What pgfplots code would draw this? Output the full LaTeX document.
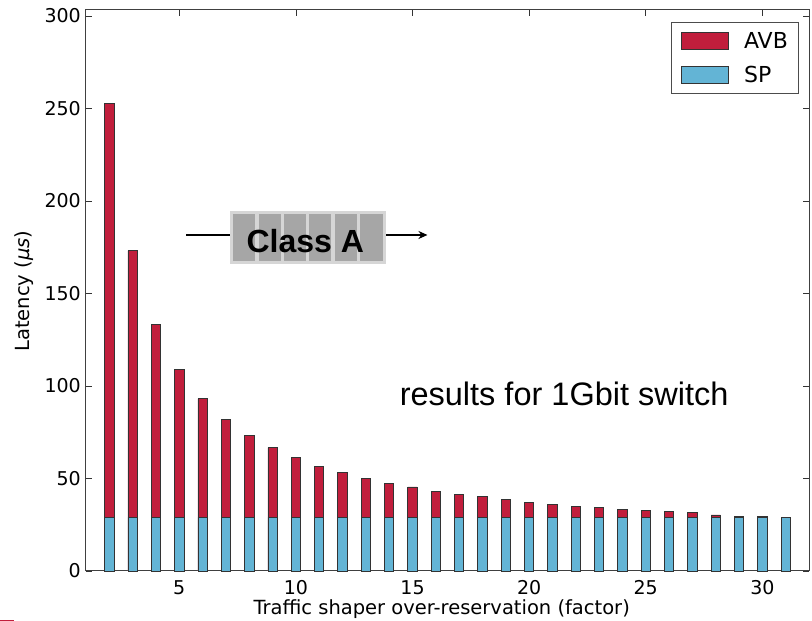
\documentclass[border=0pt]{standalone}
\usepackage{fontspec}
\setmainfont{DejaVu Sans}
\newfontfamily\arial{Liberation Sans}
\usepackage{pgfplots}
\pgfplotsset{compat=1.18}
\usetikzlibrary{arrows.meta}

\definecolor{avbred}{RGB}{193,30,60}
\definecolor{spblue}{RGB}{99,180,213}
\definecolor{boxlight}{RGB}{214,214,214}
\definecolor{boxcell}{RGB}{166,166,166}

\begin{document}
\begin{tikzpicture}
\begin{axis}[
    at={(0pt,0pt)}, anchor=south west,
    scale only axis,
    width=723pt, height=561pt,
    xmin=1, xmax=32,
    ymin=0, ymax=303.2,
    xtick={5,10,...,30},
    ytick={0,50,...,300},
    tick align=inside,
    major tick length=6pt,
    tick style={black!80, line width=0.8pt},
    axis line style={black!75, line width=1pt},
    /pgf/number format/assume math mode=true,
    ticklabel style={font=\fontsize{19}{21}\selectfont, inner sep=0pt},
    xticklabel style={yshift=-9pt},
    yticklabel style={xshift=-5pt},
    xlabel={Traffic shaper over-reservation (factor)},
    ylabel={Latency ({\itshape μs})},
    label style={font=\fontsize{19.5}{21}\selectfont},
    xlabel style={at={(axis description cs:0.492,0)}, anchor=base, yshift=-44pt},
    ylabel style={at={(axis description cs:0,0.499)}, anchor=base, yshift=56pt},
    bar width=0.4,
    legend style={at={(0.9865,0.979)}, anchor=north east,
        draw=black!70, line width=0.8pt,
        font=\fontsize{22}{24}\selectfont,
        inner xsep=9pt, inner ysep=8pt, row sep=12pt,
        nodes={inner sep=2pt}},
    legend cell align=left,
    legend image code/.code={\draw[#1, line width=0.8pt] (0pt,-8.5pt) rectangle (47pt,8.5pt); \path[draw=none, fill=none] (0pt,0pt) -- (61pt,0pt);},
    clip=false,
]

% AVB latency (full bar height)
\addplot[ybar, bar shift=0pt, fill=avbred, draw=black!80, line width=0.8pt]
coordinates {
(2,252.6) (3,173.1) (4,133.1) (5,109.0) (6,93.1) (7,82.0) (8,73.2) (9,66.7)
(10,61.3) (11,56.6) (12,53.2) (13,50.1) (14,47.2) (15,45.4) (16,43.1) (17,41.5)
(18,40.2) (19,38.5) (20,37.1) (21,36.0) (22,35.0) (23,34.4) (24,33.1) (25,32.6)
(26,32.1) (27,31.5) (28,30.3) (29,29.6) (30,29.6) (31,29.0)
};
\addlegendentry{AVB}

% SP latency (constant)
\addplot[ybar, bar shift=0pt, fill=spblue, draw=black!80, line width=0.8pt]
coordinates {
(2,29) (3,29) (4,29) (5,29) (6,29) (7,29) (8,29) (9,29) (10,29) (11,29)
(12,29) (13,29) (14,29) (15,29) (16,29) (17,29) (18,29) (19,29) (20,29) (21,29)
(22,29) (23,29) (24,29) (25,29) (26,29) (27,29) (28,29) (29,29) (30,29) (31,29)
};
\addlegendentry{SP}

% annotation: queue picture
\draw[black, line width=1.5pt] (axis cs:5.29,181.6) -- (axis cs:7.18,181.6);
\draw[black, line width=1.5pt, -{Stealth[length=9pt,width=8pt]}] (axis cs:13.88,181.6) -- (axis cs:15.64,181.6);
\begin{scope}[shift={(axis cs:7.18,165.9)}]
  \fill[boxlight] (0pt,0pt) rectangle (156pt,53pt);
  \fill[boxcell] (3pt,3pt) rectangle (25pt,50pt);
  \fill[boxcell] (28.4pt,3pt) rectangle (50.4pt,50pt);
  \fill[boxcell] (53.8pt,3pt) rectangle (75.8pt,50pt);
  \fill[boxcell] (79.2pt,3pt) rectangle (101.2pt,50pt);
  \fill[boxcell] (104.6pt,3pt) rectangle (126.6pt,50pt);
  \fill[boxcell] (130pt,3pt) rectangle (153pt,50pt);
\end{scope}
\node[anchor=base, inner sep=0pt, font=\arial\bfseries\fontsize{32}{34}\selectfont]
  at (axis cs:10.4,172.4) {Class A};

\node[anchor=base, inner sep=0pt, font=\arial\fontsize{32.5}{34}\selectfont]
  at (axis cs:21.5,89.7) {results for 1Gbit switch};

\end{axis}
\draw[avbred, line width=1pt] (-86pt,-49.5pt) -- (-72pt,-49.5pt);
\pgfresetboundingbox
\useasboundingbox (-86pt,-50pt) rectangle (726pt,571pt);
\end{tikzpicture}
\end{document}
